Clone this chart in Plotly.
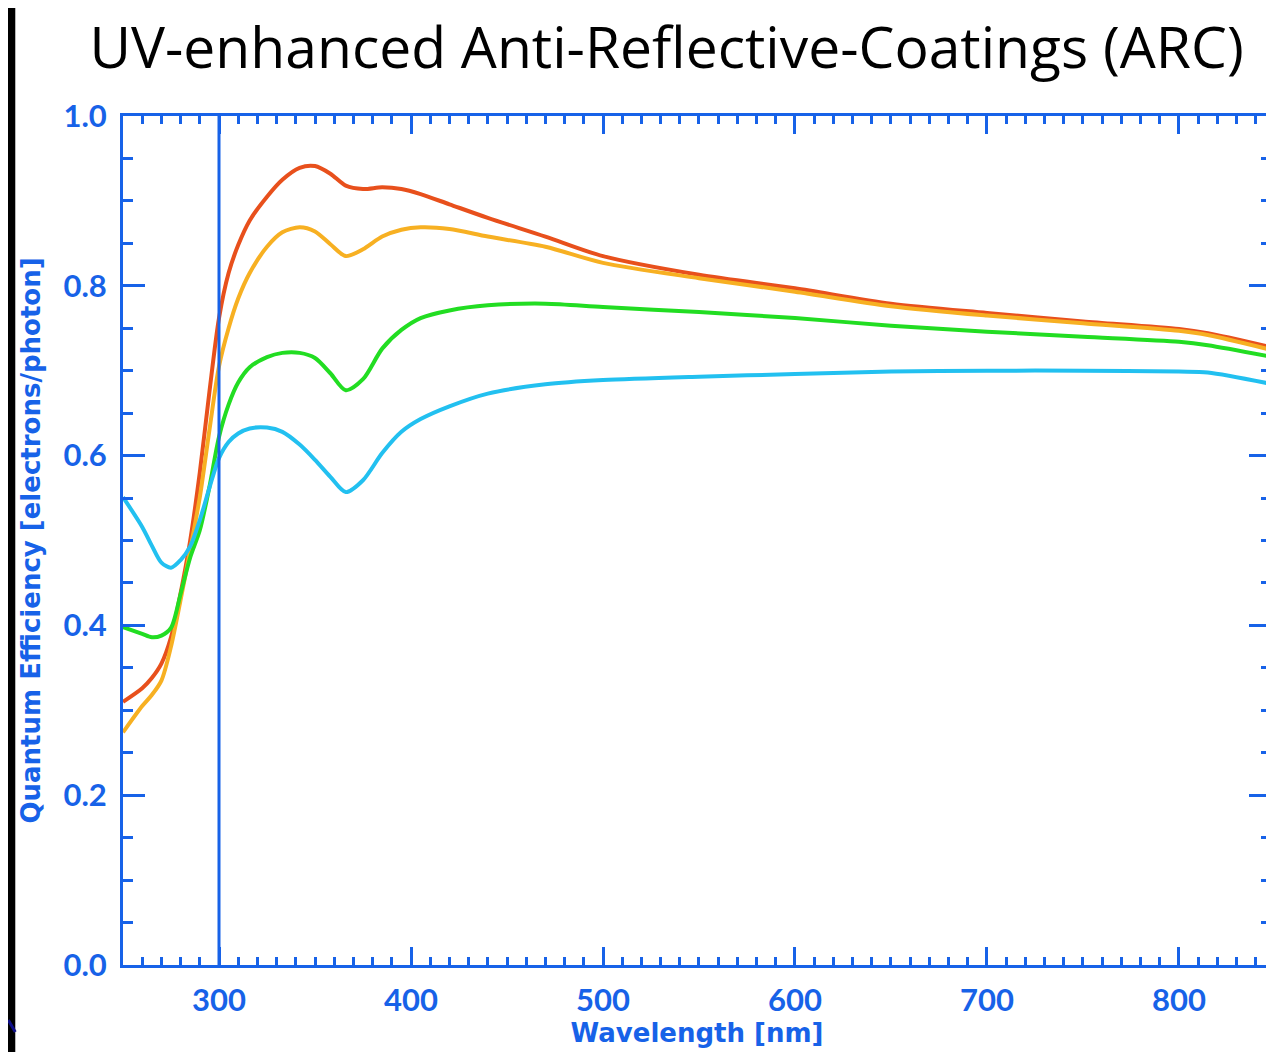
import plotly.graph_objects as go

# ---- data ----
wavelength = [250, 260, 265, 270, 275, 280, 285, 290, 295, 300, 305, 310, 316, 325, 333, 342,
              350, 358, 366, 375, 385, 395, 405, 420, 440, 470, 500, 550, 600, 650, 700, 750,
              800, 815, 849]

qe_red = [0.310, 0.326, 0.338, 0.355, 0.386, 0.438, 0.500, 0.580, 0.675, 0.762, 0.815, 0.848,
          0.877, 0.905, 0.925, 0.939, 0.941, 0.932, 0.918, 0.914, 0.916, 0.914, 0.908, 0.896,
          0.880, 0.858, 0.835, 0.813, 0.797, 0.779, 0.768, 0.758, 0.749, 0.744, 0.727]

qe_orange = [0.274, 0.305, 0.318, 0.335, 0.375, 0.430, 0.489, 0.551, 0.630, 0.705, 0.750, 0.785,
             0.815, 0.846, 0.863, 0.869, 0.864, 0.849, 0.835, 0.843, 0.858, 0.866, 0.869, 0.867,
             0.858, 0.846, 0.827, 0.809, 0.793, 0.776, 0.765, 0.756, 0.747, 0.742, 0.724]

qe_green = [0.398, 0.390, 0.386, 0.388, 0.397, 0.437, 0.480, 0.512, 0.563, 0.622, 0.660, 0.686,
            0.704, 0.716, 0.721, 0.721, 0.715, 0.697, 0.677, 0.690, 0.726, 0.748, 0.762, 0.771,
            0.777, 0.779, 0.775, 0.769, 0.762, 0.753, 0.746, 0.740, 0.734, 0.730, 0.716]

qe_cyan = [0.551, 0.516, 0.494, 0.474, 0.468, 0.477, 0.493, 0.524, 0.562, 0.597, 0.616, 0.626,
           0.632, 0.633, 0.628, 0.613, 0.595, 0.575, 0.557, 0.571, 0.603, 0.628, 0.643, 0.658,
           0.673, 0.684, 0.689, 0.693, 0.696, 0.699, 0.700, 0.700, 0.699, 0.698, 0.684]

series_names = ["Coating A", "Coating B", "Coating C", "Coating D"]
series_values = [qe_red, qe_orange, qe_green, qe_cyan]
series_colors = ["#e8501c", "#f7b022", "#22dd22", "#22c0f0"]

x_ticks = [300, 400, 500, 600, 700, 800]
y_ticks = [0.0, 0.2, 0.4, 0.6, 0.8, 1.0]
marker_wavelength = 300

title_text = "UV-enhanced Anti-Reflective-Coatings (ARC)"
x_title = "Wavelength [nm]"
y_title = "Quantum Efficiency [electrons/photon]"

BLUE = "#1762e8"
TICK_FONT = dict(family="Lato", size=31, color=BLUE, weight=700)
LABEL_FONT = "DejaVu Sans"

fig = go.Figure()
for name, vals, col in zip(series_names, series_values, series_colors):
    fig.add_trace(go.Scatter(x=wavelength, y=vals, mode="lines", name=name,
                             line=dict(color=col, width=4, shape="spline", smoothing=0.8)))

# vertical marker at 300 nm spanning the full y range
fig.add_trace(go.Scatter(x=[marker_wavelength, marker_wavelength], y=[0, 1], mode="lines",
                         line=dict(color=BLUE, width=3), hoverinfo="skip", showlegend=False))

# the page adds an 8 px body margin; lay out in figure coordinates accordingly
OFF = 8
W, H = 1274 - OFF, 1052 - OFF
L, R, T, B = 123 - OFF, 0, 116 - OFF, 87
pw, ph = W - L - R, H - T - B

def px_x(p):
    return (p - L) / pw

def px_y(p):
    return (H - B - p) / ph

common_axis = dict(showline=True, linewidth=3, linecolor=BLUE, mirror="allticks",
                   ticks="inside", tickcolor=BLUE, tickwidth=3,
                   showgrid=False, zeroline=False, tickfont=TICK_FONT)

fig.update_xaxes(range=[250, 250 + pw / 1.925], tickvals=x_ticks, ticklen=18,
                 minor=dict(dtick=10, ticklen=8, tickwidth=3, tickcolor=BLUE, ticks="inside"),
                 ticklabelstandoff=6,
                 title=dict(text=x_title, font=dict(family=LABEL_FONT, size=26, color=BLUE, weight=700),
                            standoff=4),
                 **common_axis)
fig.update_yaxes(range=[0, 1], tickvals=y_ticks, tickformat=".1f", ticklen=22,
                 minor=dict(dtick=0.05, ticklen=10, tickwidth=3, tickcolor=BLUE, ticks="inside"),
                 ticklabelstandoff=7,
                 title=dict(text=y_title, font=dict(family=LABEL_FONT, size=26, color=BLUE, weight=700),
                            standoff=16),
                 **common_axis)

fig.update_layout(
    width=W, height=H,
    margin=dict(l=L, r=R, t=T, b=B, pad=0),
    paper_bgcolor="white", plot_bgcolor="white",
    showlegend=False,
    title=dict(text=title_text, x=(668 - OFF - L) / pw, xref="paper", xanchor="center",
               y=1 - 40 / H, yanchor="middle",
               font=dict(family="Open Sans", size=57, color="black")),
    shapes=[
        dict(type="rect", xref="paper", yref="paper", x0=px_x(-5), x1=px_x(15 - OFF),
             y0=px_y(H + 5), y1=px_y(-5), fillcolor="black", line=dict(width=0), layer="above"),
        dict(type="line", xref="paper", yref="paper", x0=px_x(0), y0=px_y(1012),
             x1=px_x(7), y1=px_y(1024), line=dict(color="#10108a", width=3), layer="above"),
    ],
)

fig.write_html("out.html")
